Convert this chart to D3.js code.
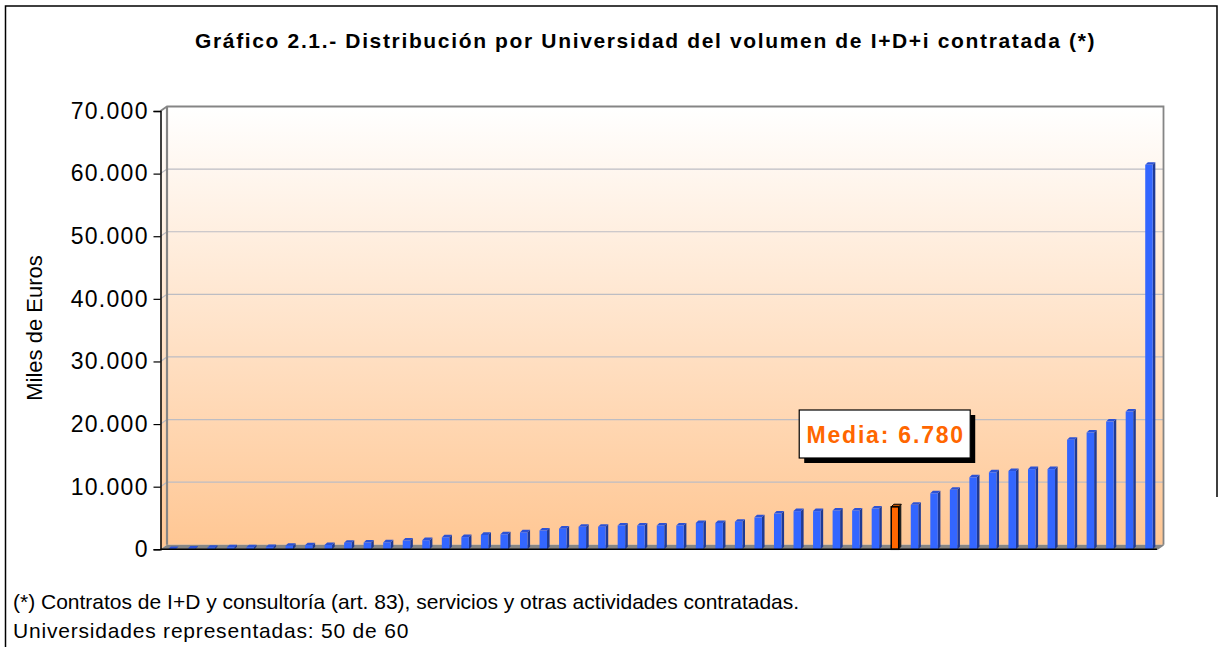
<!DOCTYPE html>
<meta charset='utf-8'>
<style>
  body { margin: 0; background: #fff; }
  svg { display: block; font-family: "Liberation Sans", Arial, sans-serif; }
</style>
<body>
<div id="viz"></div>
<script src="https://cdnjs.cloudflare.com/ajax/libs/d3/7.8.5/d3.min.js"></script>
<script>
// volumen de I+D+i contratada por universidad, miles de euros (ordenado)
const valores = [50, 120, 250, 320, 320, 350, 550, 650, 680, 1050,
  1080, 1100, 1400, 1450, 1900, 1950, 2300, 2400, 2700, 3000,
  3300, 3600, 3600, 3800, 3800, 3800, 3800, 4200, 4200, 4400,
  5100, 5700, 6100, 6100, 6200, 6200, 6500, 7100, 8950, 9500,
  11500, 12300, 12500, 12800, 12800, 17500, 18650, 20400, 22000, 61400];
const media = 6780;
const yTicks = [0, 10000, 20000, 30000, 40000, 50000, 60000, 70000];

const titulo = 'Gráfico 2.1.- Distribución por Universidad del volumen de I+D+i contratada (*)';
const ejeY = 'Miles de Euros';
const notas = ['(*) Contratos de I+D y consultoría (art. 83), servicios y otras actividades contratadas.',
  'Universidades representadas: 50 de 60'];

// barras + barra de la media, en orden
const barras = valores.map(v => ({v: v, media: false}))
  .concat([{v: media, media: true}])
  .sort((a, b) => a.v - b.v);

const W = 1223, H = 647;
const svg = d3.select('#viz').append('svg').attr('width', W).attr('height', H);

const es = d3.formatLocale({decimal: ',', thousands: '.', grouping: [3], currency: ['', '€']});
const fmt = es.format(',.0f');

// 3d offsets
const dx = 6.5, dy = 4.5;
const left = 160.5, right = 1157;
const y = d3.scaleLinear().domain([0, 70000]).range([549.3, 111]);
const x = d3.scaleBand().domain(d3.range(barras.length)).range([left, right]);

const defs = svg.append('defs');
const grad = defs.append('linearGradient').attr('id', 'wall')
  .attr('gradientUnits', 'userSpaceOnUse')
  .attr('x1', 0).attr('x2', 0).attr('y1', y(70000) - dy).attr('y2', y(0) - dy);
grad.append('stop').attr('offset', 0).attr('stop-color', '#ffffff');
grad.append('stop').attr('offset', 1).attr('stop-color', '#ffc794');

// frame
svg.append('path')
  .attr('d', `M5.5,${H} L5.5,6 L1217,6 L1217,497`)
  .attr('fill', 'none').attr('stroke', '#000').attr('stroke-width', 1.5);

svg.append('text')
  .attr('x', 195).attr('y', 48)
  .style('font-weight', 'bold').style('font-size', '21px').style('letter-spacing', '1.65px')
  .text(titulo);

const wallTop = y(70000) - dy, wallBot = y(0) - dy;

// side wall + back wall
svg.append('path')
  .attr('d', `M${left},${y(0)} L${left},${y(70000)} L${left + dx},${wallTop} L${left + dx},${wallBot} Z`)
  .attr('fill', 'url(#wall)');
svg.append('rect')
  .attr('x', left + dx).attr('y', wallTop)
  .attr('width', right - left).attr('height', wallBot - wallTop)
  .attr('fill', 'url(#wall)');

// gridlines
svg.append('g').selectAll('path').data(yTicks.slice(1, -1)).join('path')
  .attr('d', d => `M${left},${y(d)} L${left + dx},${y(d) - dy} L${right + dx},${y(d) - dy}`)
  .attr('fill', 'none').attr('stroke', '#bdbdc3').attr('stroke-width', 1.2);

// wall edges
svg.append('path')
  .attr('d', `M${left},${y(70000)} L${left + dx},${wallTop} L${right + dx},${wallTop} L${right + dx},${wallBot}`)
  .attr('fill', 'none').attr('stroke', '#858585').attr('stroke-width', 1.8);
svg.append('line')
  .attr('x1', left + dx).attr('x2', left + dx).attr('y1', wallTop).attr('y2', wallBot)
  .attr('stroke', '#858585').attr('stroke-width', 2.2);

// floor
svg.append('path')
  .attr('d', `M${left},${y(0)} L${left + dx},${wallBot} L${right + dx},${wallBot} L${right},${y(0)} Z`)
  .attr('fill', '#858585');

// bars
const bw = 7.5, bd = 2.6;
const gb = svg.append('g');
barras.forEach((d, i) => {
  const x0 = x(i) + x.bandwidth() / 2 - 2, x1 = x0 + bw;
  const yt = y(d.v), yb = y(0);
  const g = gb.append('g');
  g.append('path')
    .attr('d', `M${x1},${yt} L${x1 + bd},${yt - bd} L${x1 + bd},${yb - bd} L${x1},${yb} Z`)
    .attr('fill', d.media ? '#222' : '#1f3a94');
  g.append('path')
    .attr('d', `M${x0},${yt} L${x0 + bd},${yt - bd} L${x1 + bd},${yt - bd} L${x1},${yt} Z`)
    .attr('fill', d.media ? '#c25000' : '#2c52d6')
    .attr('stroke', d.media ? '#000' : 'none').attr('stroke-width', 1);
  g.append('rect')
    .attr('x', x0).attr('y', yt).attr('width', bw).attr('height', yb - yt)
    .attr('fill', d.media ? '#ff6600' : '#3366ff')
    .attr('stroke', d.media ? '#000' : 'none').attr('stroke-width', 1.5);
});

// front floor edge + right diagonal
svg.append('line')
  .attr('x1', left).attr('x2', right).attr('y1', y(0)).attr('y2', y(0))
  .attr('stroke', '#000').attr('stroke-width', 1.5);
svg.append('line')
  .attr('x1', right).attr('x2', right + dx).attr('y1', y(0)).attr('y2', wallBot)
  .attr('stroke', '#858585').attr('stroke-width', 1.5);

// y axis
const yAxis = d3.axisLeft(y).tickValues(yTicks).tickFormat(fmt).tickSize(7).tickPadding(6);
const ya = svg.append('g').attr('transform', `translate(${left},0)`).call(yAxis);
ya.select('.domain').attr('stroke', '#000').attr('stroke-width', 1.5);
ya.selectAll('.tick line').attr('stroke', '#000').attr('stroke-width', 1.2);
ya.selectAll('.tick text').style('font-size', '23px').style('letter-spacing', '1.3px')
  .attr('fill', '#000').attr('dx', '1.3')
  .attr('font-family', '"Liberation Sans", Arial, sans-serif');

svg.append('text')
  .attr('transform', 'translate(42,328) rotate(-90)')
  .attr('text-anchor', 'middle')
  .style('font-size', '22px')
  .text(ejeY);

// media label
const iMedia = barras.findIndex(d => d.media);
const bx = x(iMedia) + x.bandwidth() / 2 - 94, by = 410;
svg.append('rect').attr('x', bx + 5).attr('y', by + 5).attr('width', 171).attr('height', 48).attr('fill', '#000');
svg.append('rect').attr('x', bx).attr('y', by).attr('width', 171).attr('height', 48)
  .attr('fill', '#fff').attr('stroke', '#000').attr('stroke-width', 1.2);
svg.append('text')
  .attr('x', bx + 86.5).attr('y', by + 33)
  .attr('text-anchor', 'middle')
  .style('font-weight', 'bold').style('font-size', '23px').style('letter-spacing', '1.8px')
  .attr('fill', '#ff6600')
  .text('Media: ' + fmt(media));

// notes
svg.append('g').selectAll('text').data(notas).join('text')
  .attr('x', 13).attr('y', (d, i) => 609 + i * 29)
  .style('font-size', '21px')
  .style('letter-spacing', (d, i) => i ? '0.8px' : '0px')
  .text(d => d);
</script>
</body>
